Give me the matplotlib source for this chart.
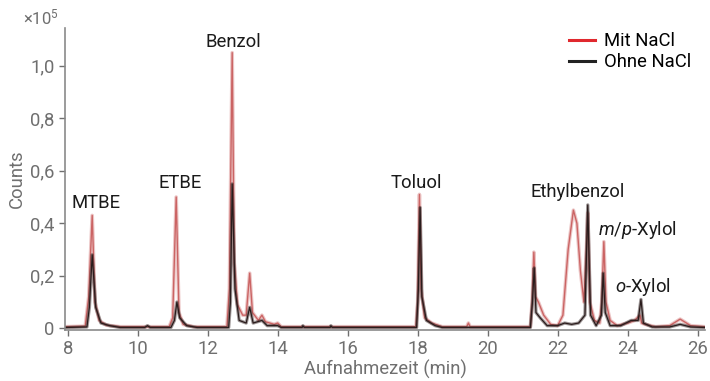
import matplotlib.pyplot as plt
from matplotlib.lines import Line2D

plt.rcParams['font.family'] = ['Roboto', 'DejaVu Sans']
plt.rcParams['mathtext.fontset'] = 'custom'
plt.rcParams['mathtext.rm'] = 'Roboto'
plt.rcParams['mathtext.it'] = 'Roboto:italic'

# Mit NaCl (red trace), time in min, counts in 1e5
t_mit = [7.93, 8.5, 8.6, 8.7, 8.78, 8.9, 9.1, 9.5, 10.9, 11.0, 11.1, 11.18, 11.3, 11.6,
         12.55, 12.62, 12.7, 12.76, 12.85, 13.0, 13.1, 13.2, 13.28, 13.45, 13.55, 13.65,
         13.9, 14.0, 14.1, 17.95, 18.0, 18.05, 18.1, 18.2, 18.4, 18.7, 19.4, 19.45, 19.5,
         21.22, 21.27, 21.32, 21.37, 21.45, 21.6, 21.8, 22.0, 22.15, 22.3, 22.45, 22.55,
         22.65, 22.75, 22.82, 22.86, 22.92, 23.05, 23.2, 23.26, 23.32, 23.38, 23.5, 23.7,
         24.0, 24.2, 24.35, 24.4, 24.5, 24.8, 25.2, 25.5, 25.8, 26.2]
y_mit = [0.006, 0.008, 0.12, 0.43, 0.10, 0.03, 0.012, 0.006, 0.006, 0.04, 0.50, 0.06, 0.015, 0.006,
         0.006, 0.15, 1.05, 0.25, 0.09, 0.05, 0.05, 0.21, 0.06, 0.03, 0.05, 0.025,
         0.015, 0.02, 0.006, 0.006, 0.10, 0.51, 0.15, 0.04, 0.02, 0.006, 0.006, 0.02, 0.006,
         0.006, 0.10, 0.29, 0.12, 0.10, 0.05, 0.015, 0.01, 0.05, 0.30, 0.45, 0.40,
         0.22, 0.10, 0.30, 0.44, 0.10, 0.03, 0.02, 0.10, 0.33, 0.10, 0.03, 0.01,
         0.02, 0.03, 0.05, 0.02, 0.015, 0.006, 0.01, 0.035, 0.01, 0.006]

# Ohne NaCl (black trace)
t_ohne = [7.93, 8.55, 8.62, 8.7, 8.8, 8.95, 9.2, 9.5, 10.2, 10.28, 10.36, 10.95, 11.05, 11.12,
          11.2, 11.4, 11.7, 12.6, 12.65, 12.7, 12.78, 12.9, 13.1, 13.2, 13.3, 13.55, 13.7,
          14.0, 14.1, 14.7, 14.72, 14.76, 15.5, 15.52, 15.56, 17.97, 18.02, 18.07, 18.12,
          18.25, 18.5, 18.7, 21.22, 21.28, 21.33, 21.38, 21.5, 21.7, 22.0, 22.2, 22.4, 22.6,
          22.78, 22.86, 22.94, 23.1, 23.25, 23.3, 23.36, 23.5, 23.8, 24.1, 24.3, 24.38,
          24.45, 24.7, 25.2, 25.5, 25.8, 26.2]
y_ohne = [0.003, 0.005, 0.08, 0.28, 0.08, 0.02, 0.01, 0.003, 0.003, 0.01, 0.003, 0.003, 0.03, 0.10,
          0.04, 0.01, 0.003, 0.003, 0.10, 0.55, 0.15, 0.03, 0.02, 0.08, 0.02, 0.03, 0.01,
          0.01, 0.003, 0.003, 0.01, 0.003, 0.003, 0.01, 0.003, 0.003, 0.15, 0.46, 0.12,
          0.03, 0.01, 0.003, 0.003, 0.10, 0.23, 0.06, 0.04, 0.01, 0.01, 0.02, 0.015, 0.02,
          0.05, 0.47, 0.05, 0.01, 0.05, 0.21, 0.06, 0.01, 0.01, 0.03, 0.03, 0.11,
          0.02, 0.005, 0.005, 0.015, 0.005, 0.003]

x_ticks = [8, 10, 12, 14, 16, 18, 20, 22, 24, 26]
y_ticks = [0, 0.2, 0.4, 0.6, 0.8, 1.0]
y_ticklabels = ['0', '0,2', '0,4', '0,6', '0,8', '1,0']

peak_names = ['MTBE', 'ETBE', 'Benzol', 'Toluol', 'Ethylbenzol',
              '$\\it{m}$/$\\it{p}$-Xylol', '$\\it{o}$-Xylol']
peak_x = [8.81, 11.21, 12.73, 17.97, 22.58, 24.27, 24.43]
peak_y = [0.477, 0.553, 1.092, 0.555, 0.521, 0.374, 0.159]

grey = '#6f6f6f'
red = '#c85a5a'
dark = '#2a1c1c'
fs = 13.3

fig = plt.figure(figsize=(7.1, 3.81), dpi=100)
ax = fig.add_axes([65 / 710, 1 - 330 / 381, 640 / 710, (330 - 27.7) / 381])

ax.plot(t_mit, y_mit, color=red, lw=2.6, alpha=0.35)
ax.plot(t_mit, y_mit, color=red, lw=1.0, alpha=0.9)
ax.plot(t_ohne, y_ohne, color=dark, lw=2.4, alpha=0.45)
ax.plot(t_ohne, y_ohne, color=dark, lw=0.9)

for name, x, y in zip(peak_names, peak_x, peak_y):
    ax.text(x, y, name, ha='center', va='center', fontsize=fs, color='#1a1a1a')

ax.set_xlim(7.923, 26.21)
ax.set_ylim(-0.0065, 1.145)
ax.set_xticks(x_ticks)
ax.set_yticks(y_ticks)
ax.set_yticklabels(y_ticklabels)
ax.tick_params(colors=grey, labelsize=fs, length=4, width=1)
for s in ['top', 'right']:
    ax.spines[s].set_visible(False)
for s in ['left', 'bottom']:
    ax.spines[s].set_color('#8a8a8a')
    ax.spines[s].set_linewidth(1.2)

ax.set_xlabel('Aufnahmezeit (min)', color=grey, fontsize=fs, labelpad=1)
ax.set_ylabel('Counts', color=grey, fontsize=fs, labelpad=3)
fig.text(23 / 710, 1 - 17 / 381, '×10$^5$', color=grey, fontsize=12, va='center')

handles = [Line2D([], [], color='#e0282e', lw=2.2), Line2D([], [], color='#222222', lw=2.2)]
ax.legend(handles, ['Mit NaCl', 'Ohne NaCl'], loc='upper right', bbox_to_anchor=(1.005, 1.04),
          frameon=False, fontsize=fs, handlelength=1.4, handletextpad=0.5, labelspacing=0.15)

fig.savefig('out.png', dpi=100)
